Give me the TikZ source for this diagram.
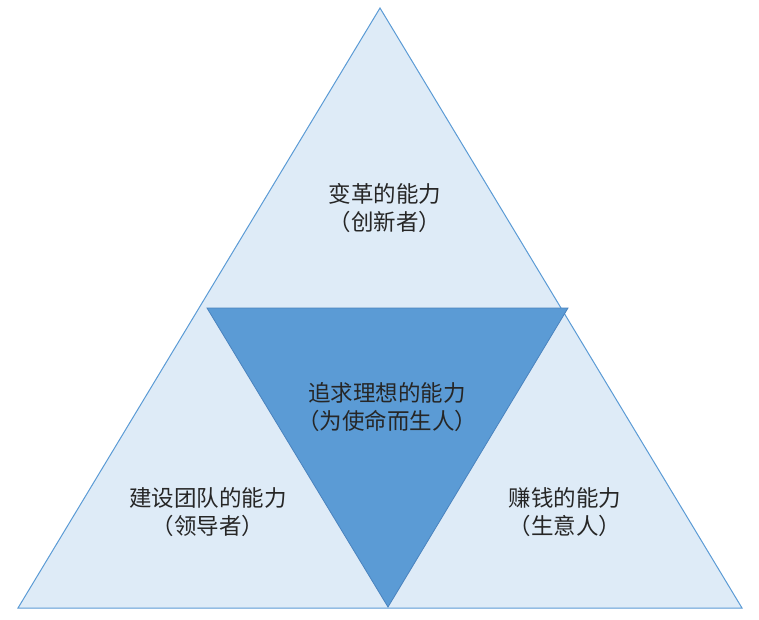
\documentclass[tikz,border=0pt]{standalone}
\usepackage{fontspec}
\setmainfont{Noto Sans CJK SC}
\definecolor{lightfill}{HTML}{DEEBF7}
\definecolor{edgeblue}{HTML}{5B9BD5}
\definecolor{innerfill}{HTML}{5B9BD5}
\definecolor{inneredge}{HTML}{4A83BE}
\definecolor{txt}{HTML}{262626}
\begin{document}
\begin{tikzpicture}[x=1pt,y=-1pt,
  lbl/.style={align=center,text=txt,font=\fontsize{22.5}{28.5}\selectfont,inner sep=0pt}]
\useasboundingbox (0,0) rectangle (759,619);
\coordinate (apex) at (380,8);
\coordinate (bl) at (18,608);
\coordinate (br) at (742,608);
\coordinate (itl) at (207,308);
\coordinate (itr) at (568,308);
\coordinate (ib) at (388,607);
\filldraw[fill=lightfill,draw=edgeblue,line width=1pt,line join=miter] (apex) -- (br) -- (bl) -- cycle;
\filldraw[fill=innerfill,draw=inneredge,line width=0.8pt,line join=miter] (itl) -- (itr) -- (ib) -- cycle;
\node[lbl] (top) at (385,208) {变革的能力\\（创新者）};
\node[lbl] (mid) at (387,407) {追求理想的能力\\（为使命而生人）};
\node[lbl] (left) at (208,512) {建设团队的能力\\（领导者）};
\node[lbl] (right) at (565,512) {赚钱的能力\\（生意人）};
\end{tikzpicture}
\end{document}
